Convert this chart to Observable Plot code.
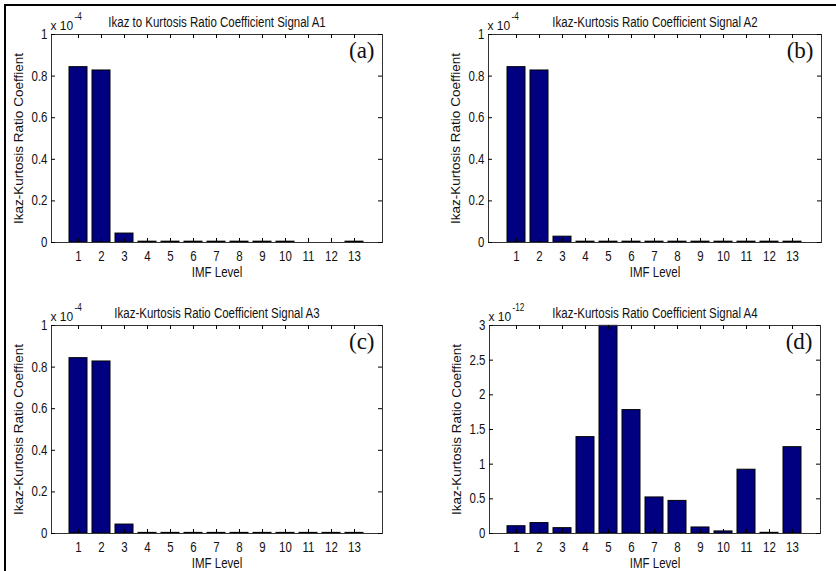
<!DOCTYPE html>
<html>
<head>
<meta charset="utf-8">
<script src="https://cdn.jsdelivr.net/npm/d3@7"></script>
<script src="https://cdn.jsdelivr.net/npm/@observablehq/plot@0.6"></script>
<style>
  html, body { margin: 0; padding: 0; background: #fff; }
  #fig { position: relative; width: 836px; height: 571px; overflow: hidden; background: #fff; }
  #fig .panel { position: absolute; }
  #fig .edge-top { position: absolute; left: 4px; top: 4px; width: 832px; height: 2px; background: #000; }
  #fig .edge-left { position: absolute; left: 4px; top: 4px; width: 2px; height: 567px; background: #000; }
</style>
</head>
<body>
<div id="fig"><div class="edge-top"></div><div class="edge-left"></div></div>
<script>
// ---------- data (values in units of the axis multiplier) ----------
const levels = [1, 2, 3, 4, 5, 6, 7, 8, 9, 10, 11, 12, 13];
const signalA1 = [0.843, 0.827, 0.043, 0.004, 0.004, 0.004, 0.004, 0.004, 0.004, 0.004, 0, 0, 0.004];
const signalA2 = [0.843, 0.827, 0.028, 0.004, 0.004, 0.004, 0.004, 0.004, 0.004, 0.004, 0.004, 0.004, 0.004];
const signalA3 = [0.843, 0.827, 0.043, 0.003, 0.003, 0.003, 0.003, 0.003, 0.003, 0.003, 0.003, 0.003, 0.003];
const signalA4 = [0.105, 0.15, 0.077, 1.39, 2.995, 1.78, 0.52, 0.47, 0.087, 0.03, 0.92, 0.01, 1.245];
const titles = [
  "Ikaz to Kurtosis Ratio Coefficient Signal A1",
  "Ikaz-Kurtosis Ratio Coefficient Signal A2",
  "Ikaz-Kurtosis Ratio Coefficient Signal A3",
  "Ikaz-Kurtosis Ratio Coefficient Signal A4"
];
const panelLabels = ["(a)", "(b)", "(c)", "(d)"];
const multiplier = "x 10";
const exponents = ["-4", "-4", "-4", "-12"];
const yTicksSmall = [0, 0.2, 0.4, 0.6, 0.8, 1];
const yTicksA4 = [0, 0.5, 1, 1.5, 2, 2.5, 3];
const yLabel = "Ikaz-Kurtosis Ratio Coeffient";
const xLabel = "IMF Level";

// ---------- layout ----------
const sans = "'Liberation Sans', Arial, Helvetica, sans-serif";
const serif = "'Liberation Serif', 'Times New Roman', serif";

const layouts = [
  {left: 0,   top: 0,   width: 416, height: 285, mt: 34, mb: 43, ml: 51, mr: 34},
  {left: 416, top: 0,   width: 420, height: 285, mt: 34, mb: 43, ml: 72, mr: 15},
  {left: 0,   top: 285, width: 416, height: 286, mt: 40, mb: 38, ml: 51, mr: 34},
  {left: 416, top: 285, width: 420, height: 286, mt: 40, mb: 38, ml: 73, mr: 16}
];
const series = [signalA1, signalA2, signalA3, signalA4];
const yMax = [1, 1, 1, 3];
const yTicks = [yTicksSmall, yTicksSmall, yTicksSmall, yTicksA4];

const fig = document.getElementById("fig");

series.forEach((vals, i) => {
  const L = layouts[i];
  const data = levels.map((lv, j) => ({level: lv, value: vals[j]}));
  const pw = L.width - L.ml - L.mr;
  const ph = L.height - L.mt - L.mb;
  const chart = Plot.plot({
    width: L.width,
    height: L.height,
    marginTop: L.mt,
    marginBottom: L.mb,
    marginLeft: L.ml,
    marginRight: L.mr,
    style: {fontFamily: sans, fontSize: "14px", color: "#111", background: "transparent", overflow: "visible"},
    x: {type: "band", domain: levels, paddingInner: 0.2, paddingOuter: 0.6},
    y: {domain: [0, yMax[i]]},
    marks: [
      Plot.rectY(data, {x: "level", y: "value", fill: "#000080", stroke: "#000", strokeWidth: 1}),
      Plot.frame({stroke: "#333"}),
      Plot.tickX(levels, {x: d => d, insetTop: ph - 4, stroke: "#000"}),
      Plot.tickX(levels, {x: d => d, insetBottom: ph - 4, stroke: "#000"}),
      Plot.tickY(yTicks[i], {y: d => d, insetRight: pw - 4, stroke: "#000"}),
      Plot.tickY(yTicks[i], {y: d => d, insetLeft: pw - 4, stroke: "#000"}),
      Plot.axisX({tickSize: 0, tickPadding: 9, label: null, fontSize: 14}),
      Plot.axisY({ticks: yTicks[i], tickSize: 0, tickPadding: 4, tickFormat: d => String(d), label: null, fontSize: 14}),
      Plot.text([titles[i]], {frameAnchor: "top", dy: -8, lineAnchor: "bottom", fontSize: 14}),
      Plot.text([multiplier], {frameAnchor: "top-left", dx: -1, dy: -5, lineAnchor: "bottom", textAnchor: "start", fontSize: 12}),
      Plot.text([exponents[i]], {frameAnchor: "top-left", dx: 23, dy: -15, lineAnchor: "bottom", textAnchor: "start", fontSize: 10}),
      Plot.text([panelLabels[i]], {frameAnchor: "top-right", dx: -8, dy: 7, lineAnchor: "top", textAnchor: "end", fontSize: 23, fontFamily: serif}),
      Plot.text([yLabel], {frameAnchor: "left", dx: -33, rotate: -90, textAnchor: "middle", fontSize: 13.5}),
      Plot.text([xLabel], {frameAnchor: "bottom", dy: 30, lineAnchor: "middle", fontSize: 14})
    ]
  });
  chart.classList.add("panel");
  chart.style.left = L.left + "px";
  chart.style.top = L.top + "px";
  chart.style.position = "absolute";
  fig.appendChild(chart);

  // the reference figure is horizontally squeezed: condense horizontal sans text
  chart.querySelectorAll("text").forEach(t => {
    const tr = t.getAttribute("transform") || "";
    if (tr.includes("rotate")) return;
    if (t.textContent === multiplier) return;
    if (getComputedStyle(t).fontFamily.includes("Serif")) return;
    const len = t.getComputedTextLength();
    if (len > 0) {
      t.setAttribute("textLength", (len * 0.82).toFixed(2));
      t.setAttribute("lengthAdjust", "spacingAndGlyphs");
    }
  });
});
</script>
</body>
</html>
